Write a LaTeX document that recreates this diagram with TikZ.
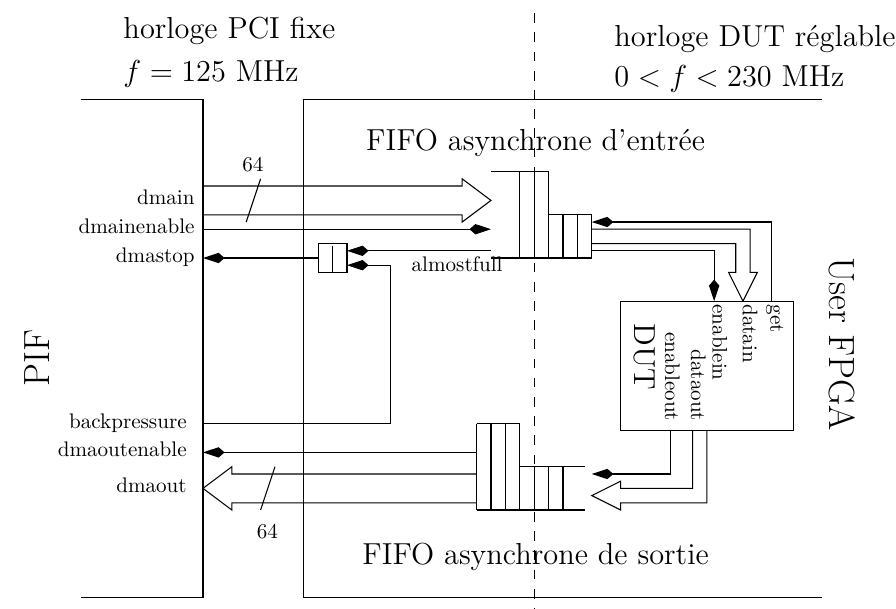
\documentclass[tikz,border=0pt]{standalone}
\usepackage{tikz}
\usetikzlibrary{arrows.meta, calc}
\tikzset{
    sig/.style={-{Kite[length=10.2pt, width=4.9pt, inset=2.8pt]}},
    bus/.style={line join=miter},
    lbl/.style={inner sep=0pt, font=\normalsize},
    portlbl/.style={inner sep=0pt, font=\normalsize, rotate=-90},
    title/.style={inner sep=0pt, font=\Large},
    bigname/.style={inner sep=0pt, font=\LARGE}
}

\begin{document}
\begin{tikzpicture}[x=0.24cm, y=-0.24cm, line width=0.5pt]
\useasboundingbox (-14.1,-11.92) rectangle (48.13,30.37);

% cadres PIF / FPGA et frontiere d'horloge
\draw (-8.5,-5) -- (0,-5) -- (0,29.6) -- (-8.5,29.6);
\draw (43,-5) -- (7,-5) -- (7,29.6) -- (43,29.6);
\draw[dash pattern=on 4.6pt off 4.5pt] (23,-11) -- (23,30.4);

\node (clkpci) [title, anchor=base west] at (-5.56,-9.28) {horloge PCI fixe};
\node (fpci) [title, anchor=base west] at (-5.56,-6.23) {$f = 125$ MHz};
\node (clkdut) [title, anchor=base west] at (28.54,-8.66) {horloge DUT réglable};
\node (fdut) [title, anchor=base west] at (28.54,-5.88) {$0 < f < 230$ MHz};
\node (fifoin) [title, anchor=base] at (23.1,-1.5) {FIFO asynchrone d'entrée};
\node (fifoout) [title, anchor=base] at (23.1,27.3) {FIFO asynchrone de sortie};
\node (pif) [bigname, rotate=90] at (-11.53,12.94) {PIF};
\node (fpga) [bigname, rotate=-90] at (44.4,12) {User FPGA};

% FIFO d'entree
\draw (20,0) -- (24,0) (20,6) -- (27,6) (24,3) -- (27,3);
\foreach \x in {22,23,24} \draw (\x,0) -- (\x,6);
\foreach \x in {25,26,27} \draw (\x,3) -- (\x,6);

% FIFO de sortie
\draw (19,17.5) -- (22,17.5) (19,23.5) -- (26.5,23.5) (22,20.5) -- (26.5,20.5);
\foreach \x in {19,20,21,22} \draw (\x,17.5) -- (\x,23.5);
\foreach \x in {23,24,25} \draw (\x,20.5) -- (\x,23.5);

% DUT et synchroniseur
\node (dut) [draw, minimum width=2.88cm, minimum height=2.16cm] at (35,13.5) {};
\node (dutname) [title, rotate=-90] at (30.7,12.87) {DUT};
\node (sync) [draw, minimum width=0.48cm, minimum height=0.48cm, inner sep=0pt] at (9,6) {};
\draw (9,5.2) -- (sync.south);

% ports
\coordinate (p-dmain) at (0,2);
\coordinate (p-dmainen) at (0,4);
\coordinate (p-dmastop) at (0,6);
\coordinate (p-bp) at (0,17.5);
\coordinate (p-dmaouten) at (0,19.5);
\coordinate (p-dmaout) at (0,22);
\coordinate (fi-dmain) at (20,2);
\coordinate (fi-en) at (20,4);
\coordinate (fi-af) at (20,5.5);
\coordinate (fi-get) at (27,3.5);
\coordinate (fi-en2) at (27,5.5);
\coordinate (fo-en) at (19,19.5);
\coordinate (fo-en2) at (27,21);
\coordinate (d-get) at (39.5,9);
\coordinate (d-datain) at (37.5,9);
\coordinate (d-enin) at (35.5,9);
\coordinate (d-enout) at (32.5,18);
\coordinate (fo-dataout) at (27,22.5);
\coordinate (s-af) at (10,5.5);
\coordinate (s-bp) at (10,6.5);

% bus 64 bits
\draw[bus] (0,1) -- (18,1) -- (18,0.5) -- (fi-dmain) -- (18,3.5) -- (18,3) -- (0,3);
\draw (4,0.5) -- (3,3.5);
\node (w-in) at (3.47,-0.47) {64};
\draw[bus] (19,21) -- (2,21) -- (2,20.5) -- (p-dmaout) -- (2,23.5) -- (2,23) -- (19,23);
\draw (5,20.5) -- (4,23.5);
\node (w-out) at (4.47,25) {64};
\draw[bus] (27,4) -- (38,4) -- (38,7) -- (38.5,7) -- (d-datain) -- (36.5,7) -- (37,7) -- (37,5) -- (27,5);
\draw[bus] (34,18) -- (34,22) -- (29,22) -- (29,21.5) -- (fo-dataout) -- (29,23.5) -- (29,23) -- (35,23) -- (35,18);

% signaux de controle
\draw[sig] (p-dmainen) -- (fi-en);
\draw[sig] (sync.west) -- (p-dmastop);
\draw[sig] (fi-af) -- (s-af);
\draw[sig] (p-bp) -- (13,17.5) |- (s-bp);
\draw[sig] (d-get) |- (fi-get);
\draw[sig] (fi-en2) -| (d-enin);
\draw[sig] (d-enout) |- (fo-en2);
\draw[sig] (fo-en) -- (p-dmaouten);

% etiquettes
\node (l-dmain) [lbl, anchor=mid east] at (-0.55,2) {dmain};
\node (l-dmainen) [lbl, anchor=mid east] at (-0.55,4) {dmainenable};
\node (l-dmastop) [lbl, anchor=mid east] at (-0.55,6) {dmastop};
\node (l-bp) [lbl, anchor=mid east] at (-1.1,17.5) {backpressure};
\node (l-dmaouten) [lbl, anchor=mid east] at (-1.1,19.5) {dmaoutenable};
\node (l-dmaout) [lbl, anchor=mid east] at (-1.1,22) {dmaout};
\node (l-af) [lbl, anchor=base] at (17.65,6.97) {almostfull};
\node (l-get) [portlbl, anchor=west] at (39.7,9.19) {get};
\node (l-datain) [portlbl, anchor=west] at (38,9.19) {datain};
\node (l-enin) [portlbl, anchor=west] at (35.9,9.19) {enablein};
\node (l-enout) [portlbl, anchor=east] at (32.6,17.36) {enableout};
\node (l-dataout) [portlbl, anchor=east] at (34.4,17.36) {dataout};
\end{tikzpicture}
\end{document}
